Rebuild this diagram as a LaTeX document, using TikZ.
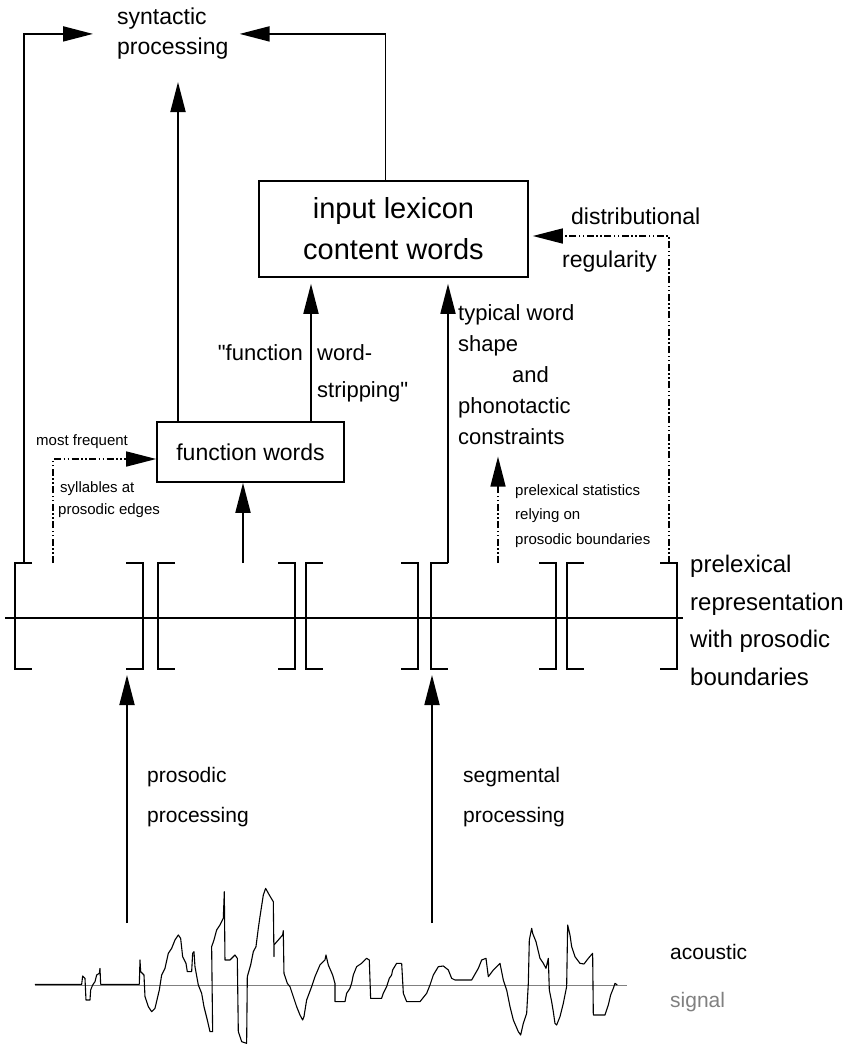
\documentclass[tikz,border=0pt]{standalone}
\usepackage{fontspec}
\setmainfont{Liberation Sans}
\usetikzlibrary{arrows.meta}

\tikzset{
  lbl/.style={inner sep=0pt, align=left, anchor=north west, font=\fontsize{22}{31}\selectfont},
  small/.style={inner sep=0pt, align=left, anchor=north west, font=\fontsize{15}{23}\selectfont},
  arr/.style={line width=1.8pt, -{Triangle[length=30pt,width=15pt]}},
  dd/.style={line width=1.5pt, dash pattern=on 7pt off 2.5pt on 1.5pt off 2.5pt on 1.5pt off 2.5pt},
  wordbox/.style={draw, line width=1.6pt, inner sep=0pt},
  brk/.style={line width=1.1pt}
}

\begin{document}
\begin{tikzpicture}[x=1pt,y=-1pt]
  \useasboundingbox (0,0) rectangle (860,1044);

  % processing levels
  \node[lbl, font=\fontsize{23}{30}\selectfont] (syn) at (117,8) {syntactic\\processing};
  \node[wordbox, minimum width=269pt, minimum height=96pt, align=center,
        font=\fontsize{29}{41}\selectfont] (lex) at (393.5,229) {input lexicon\\content words};
  \node[wordbox, minimum width=187pt, minimum height=60pt,
        font=\fontsize{23}{28}\selectfont] (fw) at (250.5,452) {function words};

  % labels
  \node[lbl, anchor=north east] (fwq) at (303,344) {\textquotedbl function};
  \node[lbl, font=\fontsize{22}{37}\selectfont] (strip) at (317,344) {word-\\stripping\textquotedbl};
  \node[lbl] (shp) at (458,304) {typical word\\shape\\\hspace{54pt}and\\phonotactic\\constraints};
  \node[small, font=\fontsize{15}{24.5}\selectfont] (stats) at (515,484)
    {prelexical statistics\\relying on\\prosodic boundaries};
  \node[small] (freqa) at (36,434) {most frequent};
  \node[small, font=\fontsize{15}{22}\selectfont] (freqb) at (60,481) {syllables at\\\hspace{-2pt}prosodic edges};
  \node[lbl, font=\fontsize{23}{30}\selectfont] (dista) at (571,208) {distributional};
  \node[lbl, font=\fontsize{23}{30}\selectfont] (distb) at (562,251) {regularity};
  \node[lbl, font=\fontsize{24}{37.7}\selectfont] (prelex) at (690,555)
    {prelexical\\representation\\with prosodic\\boundaries};
  \node[lbl, font=\fontsize{21}{40}\selectfont] (pros) at (147,767) {prosodic\\processing};
  \node[lbl, font=\fontsize{21}{40}\selectfont] (segm) at (463,767) {segmental\\processing};
  \node[lbl, font=\fontsize{21}{24}\selectfont] (acou) at (670,944) {acoustic};
  \node[lbl, font=\fontsize{21}{24}\selectfont, text=gray] (sig) at (670,992) {signal};

  % connector ends
  \coordinate (edgeL) at (24,563);
  \coordinate (freq) at (53,563);
  \coordinate (fwin) at (243,563);
  \coordinate (stripin) at (311,422);
  \coordinate (shapein) at (448,563);
  \coordinate (statin) at (498,563);
  \coordinate (distin) at (669,563);
  \coordinate (prosin) at (127,923);
  \coordinate (segin) at (432,923);
  \coordinate (row) at (0,675);
  \coordinate (synin) at (178,82);

  % prelexical representation
  \draw[line width=1.8pt] (5,618) -- (683,618);
  \foreach \x in {15,158,306,431,567}
    \draw[brk] (\x+17,563) -| (\x,669) -- (\x+17,669);
  \foreach \x in {143,295,418,556,677}
    \draw[brk] (\x-17,563) -| (\x,669) -- (\x-17,669);

  % connectors
  \draw[arr] (edgeL) |- ([xshift=-24pt]syn.west);
  \draw[arr] ([xshift=-8pt]lex.north) |- ([xshift=11pt]syn.east);
  \draw[arr] (fw.north -| synin) -- (synin);
  \draw[arr, shorten >=6pt] (stripin) -- (stripin |- lex.south);
  \draw[arr, shorten >=6pt] (shapein) -- (shapein |- lex.south);
  \draw[arr] (fwin) -- (fwin |- fw.south);
  \draw[arr, dd] (freq) |- ([yshift=-7pt]fw.west);
  \draw[arr, dd, shorten >=12pt] (statin) -- (statin |- shp.south);
  \draw[arr, dd] (distin) |- ([xshift=4pt,yshift=-7pt]lex.east);
  \draw[arr] (prosin) -- (prosin |- row);
  \draw[arr] (segin) -- (segin |- row);

  % acoustic signal
  \draw[gray, line width=0.9pt] (35,985) -- (627,985);
  \begin{scope}[shift={(0,850)}, scale=0.3333, line width=1.1pt, line join=round]
    \draw (105,403) -- (245,403) -- (248,378) -- (255,385) -- (258,450) -- (270,450) -- (272,420)
      -- (278,405) -- (285,395) -- (290,375) -- (298,370) -- (300,355) -- (302,403) -- (418,403)
      -- (420,330) -- (422,365) -- (432,375) -- (435,440) -- (445,470) -- (455,485) -- (465,475)
      -- (478,420) -- (485,375) -- (495,355) -- (505,310) -- (515,295) -- (525,270) -- (535,255)
      -- (542,265) -- (548,320) -- (558,340) -- (562,365) -- (575,365) -- (578,310) -- (582,305)
      -- (585,350) -- (595,405) -- (605,430) -- (612,470) -- (622,510) -- (630,545) -- (638,545)
      -- (635,290) -- (642,270) -- (650,240) -- (660,225) -- (670,205) -- (673,125) -- (675,330)
      -- (690,330) -- (705,315) -- (712,325) -- (715,545) -- (725,575) -- (740,580) -- (742,380)
      -- (752,345) -- (760,305) -- (768,290) -- (775,235) -- (780,200) -- (790,135) -- (797,115)
      -- (808,135) -- (820,155) -- (822,320) -- (822,285) -- (835,270) -- (848,255) -- (850,242)
      -- (852,370) -- (862,400) -- (870,410) -- (880,440) -- (890,470) -- (900,495) -- (908,510)
      -- (912,500) -- (920,450) -- (935,410) -- (945,380) -- (960,345) -- (975,330) -- (978,315)
      -- (985,345) -- (998,375) -- (1005,400) -- (1005,455) -- (1035,455) -- (1040,430)
      -- (1050,415) -- (1055,400) -- (1060,375) -- (1070,350) -- (1085,340) -- (1100,325)
      -- (1108,330) -- (1112,445) -- (1145,445) -- (1150,430) -- (1160,410) -- (1168,385)
      -- (1175,375) -- (1178,360) -- (1190,340) -- (1205,340);
  \end{scope}
  \begin{scope}[shift={(400,850)}, scale=0.3333, line width=1.1pt, line join=round]
    \draw (5,340) -- (10,430) -- (20,455) -- (60,455) -- (80,430) -- (90,405) -- (100,375)
      -- (115,350) -- (130,348) -- (145,360) -- (155,385) -- (165,390) -- (215,390) -- (235,355)
      -- (245,330) -- (258,325) -- (265,380) -- (280,360) -- (300,340) -- (310,390) -- (320,420)
      -- (330,470) -- (340,510) -- (355,545) -- (362,555) -- (370,520) -- (380,490) -- (385,400)
      -- (388,270) -- (395,235) -- (398,250) -- (408,275) -- (420,325) -- (430,340) -- (438,355)
      -- (445,325) -- (448,420) -- (455,455) -- (460,485) -- (465,520) -- (470,525) -- (480,500)
      -- (490,460) -- (500,410) -- (503,225) -- (510,255) -- (515,290) -- (525,320) -- (540,340)
      -- (552,342) -- (565,325) -- (578,310) -- (580,495) -- (615,495) -- (625,465) -- (632,435)
      -- (640,415) -- (645,400) -- (652,405);
  \end{scope}
\end{tikzpicture}
\end{document}
